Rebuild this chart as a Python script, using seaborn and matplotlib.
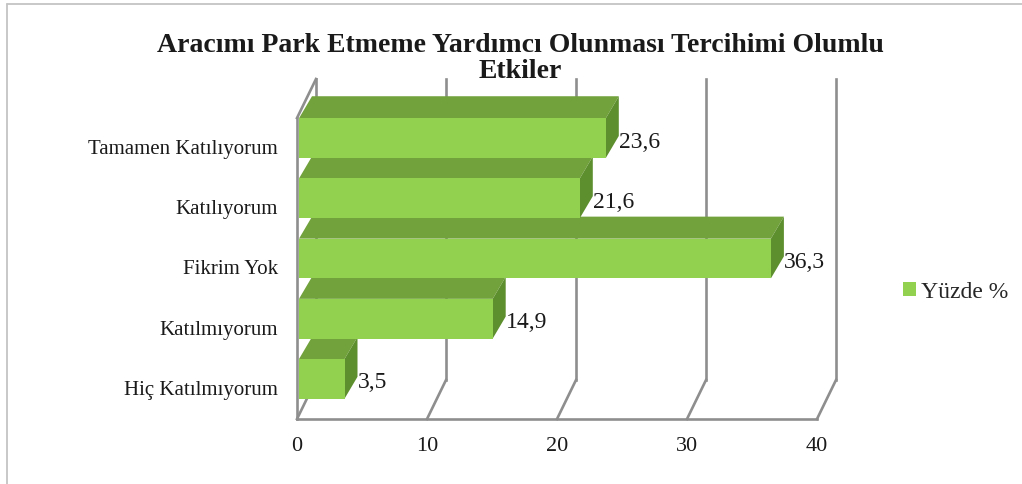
import numpy as np
import pandas as pd
import matplotlib
matplotlib.use("Agg")
import matplotlib.pyplot as plt
import seaborn as sns
from matplotlib.patches import Polygon
from matplotlib.lines import Line2D
from matplotlib.transforms import Affine2D

# ---- data ----
categories = ["Tamamen Katılıyorum", "Katılıyorum", "Fikrim Yok", "Katılmıyorum", "Hiç Katılmıyorum"]
values = [23.6, 21.6, 36.3, 14.9, 3.5]
value_labels = ["23,6", "21,6", "36,3", "14,9", "3,5"]
series_name = "Yüzde %"
x_ticks = [0, 10, 20, 30, 40]
x_tick_labels = ["0", "10", "20", "30", "40"]
title_lines = ["Aracımı Park Etmeme Yardımcı Olunması Tercihimi Olumlu", "Etkiler"]

# ---- style ----
W, H, DPI = 1022, 484, 100
FRONT = "#92d050"
TOP = "#71a23b"
SIDE = "#5e8f2e"
WALL = "#8e8e8e"
BORDER = "#c4c4c4"
TEXT = "#1a1a1a"

sns.set_theme(style="white")
plt.rcParams["font.family"] = ["Liberation Serif", "DejaVu Serif"]

fig = plt.figure(figsize=(W / DPI, H / DPI), dpi=DPI, facecolor="white")

# axes = front plane of the bars (pixel box)
left, right, top, bottom = 299, 819, 108, 409
ax = fig.add_axes([left / W, 1 - bottom / H, (right - left) / W, (bottom - top) / H])
ax.set_facecolor("none")

XMAX = 40
n = len(categories)
px_per_x = (right - left) / XMAX
px_per_cat = (bottom - top) / n


def off(dx_px, up_px):
    """pixel offset -> data offset (y axis is inverted for categories)"""
    return dx_px / px_per_x, -up_px / px_per_cat


BAR_DEPTH = off(13, 22)
BACK = off(17, 29)
FRONT_PLANE = off(-2, -10)

df = pd.DataFrame({"Kategori": categories, "Değer": values, "Seri": series_name})
sns.barplot(data=df, y="Kategori", x="Değer", hue="Seri", palette=[FRONT],
            width=0.66, saturation=1, orient="h", ax=ax, zorder=5,
            linewidth=0, legend=True)

ax.set_xlim(0, XMAX)
ax.set_ylim(n - 0.5, -0.5)
ax.set_xlabel("")
ax.set_ylabel("")
sns.despine(ax=ax, left=True, bottom=True)
ax.grid(False)

# ---- walls and floor ----
wall_kw = dict(color=WALL, lw=1.9, clip_on=False, zorder=1, solid_capstyle="projecting")
y_floor, y_ceil = n - 0.5, -0.5
for v in x_ticks:
    fx, fy = v + FRONT_PLANE[0], y_floor + FRONT_PLANE[1]
    bx, by = v + BACK[0], y_floor + BACK[1]
    ax.plot([fx, bx], [fy, by], **wall_kw)
    ax.plot([bx, bx], [by, y_ceil + BACK[1]], **wall_kw)
ax.plot([FRONT_PLANE[0], XMAX + FRONT_PLANE[0]], [y_floor + FRONT_PLANE[1]] * 2, **wall_kw)
ax.plot([FRONT_PLANE[0]] * 2, [y_floor + FRONT_PLANE[1], y_ceil + FRONT_PLANE[1]], **wall_kw)
ax.plot([FRONT_PLANE[0], BACK[0]], [y_ceil + FRONT_PLANE[1], y_ceil + BACK[1]], **wall_kw)

# ---- 3D faces of the bars ----
dX, dY = BAR_DEPTH
bars = [p for p in ax.patches if p.get_width() > 0]
for bar in bars:
    x0, y0 = bar.get_x(), bar.get_y()
    w, h = bar.get_width(), bar.get_height()
    top_face = [(x0, y0), (x0 + w, y0), (x0 + w + dX, y0 + dY), (x0 + dX, y0 + dY)]
    side_face = [(x0 + w, y0), (x0 + w, y0 + h), (x0 + w + dX, y0 + h + dY), (x0 + w + dX, y0 + dY)]
    ax.add_patch(Polygon(top_face, closed=True, facecolor=TOP, edgecolor="none", zorder=3, clip_on=False))
    ax.add_patch(Polygon(side_face, closed=True, facecolor=SIDE, edgecolor="none", zorder=4, clip_on=False))

for bar, lab in zip(bars, value_labels):
    x_end = bar.get_x() + bar.get_width()
    yc = bar.get_y() + bar.get_height() / 2
    ax.text(x_end + 13 / px_per_x, yc + 4 / px_per_cat, lab, ha="left", va="center",
            fontsize=17, color=TEXT, zorder=6)

# ---- ticks ----
ax.set_xticks(x_ticks, labels=x_tick_labels)
ax.tick_params(axis="x", length=0, pad=20, labelsize=16, labelcolor=TEXT)
ax.tick_params(axis="y", length=0, pad=15, labelsize=15, labelcolor=TEXT)
for lbl in ax.get_yticklabels():
    lbl.set_transform(lbl.get_transform() + Affine2D().translate(0, -9))
for lbl in ax.get_xticklabels():
    lbl.set_transform(lbl.get_transform() + Affine2D().translate(-2, 0))

# ---- legend ----
sns.move_legend(ax, "center left", bbox_to_anchor=(903 / W, 1 - 292 / H),
                bbox_transform=fig.transFigure, frameon=False, title=None,
                fontsize=17, handlelength=0.55, handleheight=0.55,
                handletextpad=0.2, borderpad=0, borderaxespad=0)

# ---- title ----
for line, y_px in zip(title_lines, [45, 72]):
    fig.text(520 / W, 1 - y_px / H, line, ha="center", va="center", fontsize=20,
             fontweight="bold", color=TEXT)

# ---- outer frame ----
fig.add_artist(Line2D([7 / W, 7 / W], [0, 1 - 4 / H], transform=fig.transFigure, color=BORDER, lw=1.3))
fig.add_artist(Line2D([7 / W, 1], [1 - 4 / H, 1 - 4 / H], transform=fig.transFigure, color=BORDER, lw=1.3))

fig.savefig("out.png", dpi=DPI, facecolor="white")
